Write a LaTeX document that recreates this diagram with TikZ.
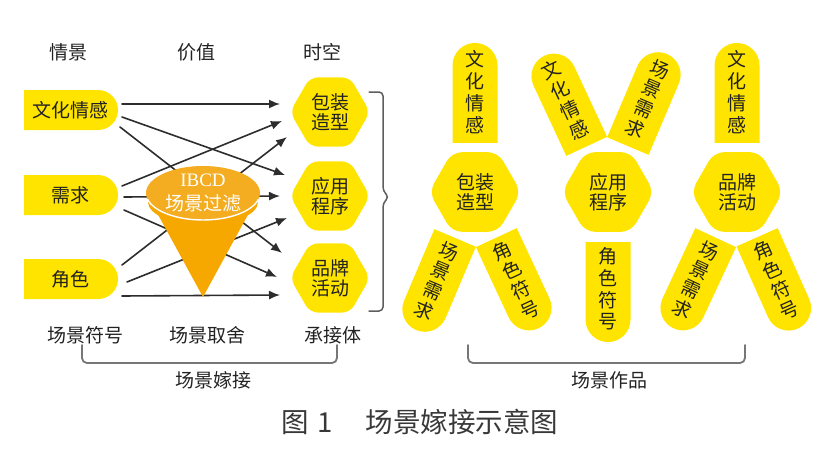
\documentclass[tikz,border=0pt]{standalone}
\usepackage{fontspec}
\usepackage{graphicx}
\usetikzlibrary{shapes.geometric,shapes.misc,arrows.meta,calc}
\newfontfamily\cjk{Noto Sans CJK SC}
\newfontfamily\ibcdfont{Liberation Serif}
\definecolor{Yfill}{RGB}{255,228,0}
\definecolor{ConeTop}{RGB}{244,172,32}
\definecolor{ConeBody}{RGB}{247,168,0}
\definecolor{Ink}{RGB}{34,34,34}
\definecolor{Aline}{RGB}{45,45,45}
\definecolor{Gline}{RGB}{118,118,118}
\newcommand{\colstack}[1]{\rotatebox{-90}{\begin{tabular}{@{}c@{}}#1\end{tabular}}}
\tikzset{
  txt/.style={font=\cjk\fontsize{19}{20}\selectfont,text=Ink,inner sep=0pt},
  pill/.style={txt,rounded rectangle,rounded rectangle west arc=none,fill=Yfill,
    minimum width=94pt,minimum height=40pt},
  hexa/.style={txt,regular polygon,regular polygon sides=6,fill=Yfill,
    rounded corners=8pt,minimum size=80pt,align=center},
  bighexa/.style={hexa,rounded corners=10pt,minimum size=92pt},
  petaltop/.style={txt,rounded rectangle,rounded rectangle west arc=none,fill=Yfill,
    minimum width=100pt,minimum height=45pt},
  petalbot/.style={txt,rounded rectangle,rounded rectangle east arc=none,fill=Yfill,
    minimum width=100pt,minimum height=45pt},
  arr/.style={draw=Aline,line width=1.6pt,-{Latex[length=11pt,width=9pt]}},
  brk/.style={draw=Gline,line width=1.8pt,rounded corners=5pt},
}
\begin{document}
\begin{tikzpicture}[x=1pt,y=-1pt,line cap=round,line join=round]
\path[use as bounding box] (0,0) rectangle (836,466);
% headers
\node[txt] (h1) at (68,52) {情景};
\node[txt] (h2) at (196,52) {价值};
\node[txt] (h3) at (322,52) {时空};
% left column
\node[pill] (wh) at (70,110) {文化情感};
\node[pill] (xq) at (70,195) {需求};
\node[pill] (js) at (70,279) {角色};
% carriers
\node[hexa] (bz) at (330,112) {包装\\造型};
\node[hexa] (yy) at (330,196) {应用\\程序};
\node[hexa] (pp) at (330,278) {品牌\\活动};
% links
\draw[arr] ($(wh)+(52,-6)$) -- ($(bz)+(-50,-8)$);
\draw[arr] ($(wh)+(52,7)$) -- ($(yy)+(-45,-21)$);
\draw[arr] ($(wh)+(50,17)$) -- ($(pp)+(-48,-25)$);
\draw[arr] ($(xq)+(52,-9)$) -- ($(bz)+(-48,9)$);
\draw[arr] ($(xq)+(54,2)$) -- ($(yy)+(-50,0)$);
\draw[arr] ($(xq)+(54,15)$) -- ($(pp)+(-53,-1)$);
\draw[arr] ($(js)+(52,-14)$) -- ($(bz)+(-43,25)$);
\draw[arr] ($(js)+(57,3)$) -- ($(yy)+(-43,22)$);
\draw[arr] ($(js)+(52,17)$) -- ($(pp)+(-50,17)$);
% filter cone
\fill[ConeBody] (150,200) -- (203,297) -- (256,200) -- cycle;
\fill[ConeBody] (203,202) ellipse [x radius=55, y radius=23];
\fill[ConeTop] (203,193) ellipse [x radius=57, y radius=27];
\begin{scope}
  \clip (140,199) rectangle (270,232);
  \draw[white,line width=1.4pt] (203,193) ellipse [x radius=57, y radius=27];
\end{scope}
\node[inner sep=0pt,text=white,font=\ibcdfont\fontsize{19}{20}\selectfont] (ib) at (203,180) {IBCD};
\node[txt,text=white] (gl) at (203,203) {场景过滤};
% brace
\draw[draw=Gline!80!black,line width=1.5pt,rounded corners=4pt]
  (369,92) -| (383,191) -- (389,197) -- (383,203) |- (369,311);
% bottom labels
\node[txt] (b1) at (85,335) {场景符号};
\node[txt] (b2) at (207,335) {场景取舍};
\node[txt] (b3) at (333,335) {承接体};
\draw[brk] (82,345) -- (82,363) -- (337,363) -- (337,345);
\node[txt] (sj) at (213,380) {场景嫁接};
% works
\node[bighexa] (bz2) at (475,192) {包装\\造型};
\node[bighexa] (yy2) at (608,192) {应用\\程序};
\node[bighexa] (pp2) at (737,192) {品牌\\活动};
\node[petaltop,rotate=90] (p1t) at (475,94) {\colstack{文\\化\\情\\感}};
\node[petalbot,rotate=67] (p1l) at (436,283) {\colstack{场\\景\\需\\求}};
\node[petalbot,rotate=115] (p1r) at (517,282) {\colstack{角\\色\\符\\号}};
\node[petaltop,rotate=115] (p2l) at (566,102) {\colstack{文\\化\\情\\感}};
\node[petaltop,rotate=67] (p2r) at (647,101) {\colstack{场\\景\\需\\求}};
\node[petalbot,rotate=90] (p2b) at (608,291) {\colstack{角\\色\\符\\号}};
\node[petaltop,rotate=90] (p3t) at (737,94) {\colstack{文\\化\\情\\感}};
\node[petalbot,rotate=65] (p3l) at (695,282) {\colstack{场\\景\\需\\求}};
\node[petalbot,rotate=114] (p3r) at (777,282) {\colstack{角\\色\\符\\号}};
\draw[brk] (468,345) -- (468,363) -- (745,363) -- (745,345);
\node[txt] (zp) at (609,380) {场景作品};
% caption
\node[inner sep=0pt,text=Ink!90,font=\cjk\fontsize{27.5}{30}\selectfont] (cap) at (420,422)
  {图\hspace{8pt}1\hspace{33pt}场景嫁接示意图};
\end{tikzpicture}
\end{document}
